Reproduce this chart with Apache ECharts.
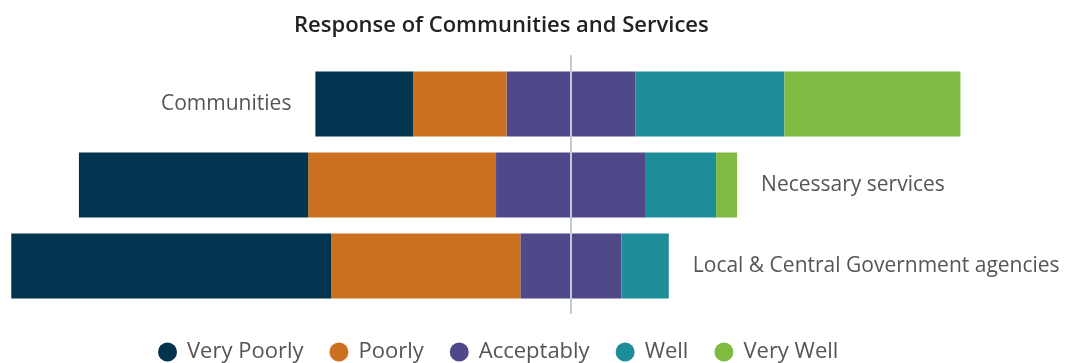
<!DOCTYPE html>
<html>
<head>
<meta charset="utf-8">
<script src="https://cdn.jsdelivr.net/npm/echarts@6/dist/echarts.min.js"></script>
<style>
  html, body { margin: 0; padding: 0; background: #fff; }
  #chart { width: 1066px; height: 363px; }
</style>
</head>
<body>
<div id="chart"></div>
<script>
// share of answers (%) per group
let categories = ['Communities', 'Necessary services', 'Local & Central Government agencies'];
let very_poorly = [14.9, 34.9, 48.7];
let poorly = [14.2, 28.6, 28.8];
let acceptably = [19.6, 22.8, 15.4];
let well = [22.7, 10.7, 7.2];
let very_well = [26.8, 3.2, 0];

let legend_names = ['Very Poorly', 'Poorly', 'Acceptably', 'Well', 'Very Well'];
let color_list = ['#02344f', '#cb7120', '#4f4889', '#1e8d9a', '#7fbb42'];

let font = 'Open Sans';
let x_min = -86, x_max = 74;

// left/right totals decide on which side the category name goes
let left_total = categories.map((c, i) => very_poorly[i] + poorly[i] + acceptably[i] / 2);
let right_total = categories.map((c, i) => acceptably[i] / 2 + well[i] + very_well[i]);

let name_label = {
    show: true,
    formatter: (p) => p.name,
    color: '#555',
    fontFamily: font,
    fontSize: 21,
    distance: 24
};

function gen_side_data(values, sign, side) {
    return values.map((v, i) => {
        let item = {value: sign * v};
        let outer_right = very_well[i] > 0 ? values === very_well : values === well;
        if (side === 'left' && left_total[i] <= right_total[i] && values === very_poorly) {
            item.label = Object.assign({}, name_label, {position: 'left'});
        }
        if (side === 'right' && left_total[i] > right_total[i] && outer_right) {
            item.label = Object.assign({}, name_label, {position: 'right'});
        }
        return item;
    });
}

function gen_bar_series(name, data, color) {
    return {
        name: name,
        type: 'bar',
        stack: 'total',
        barWidth: 65,
        data: data,
        itemStyle: {color: color},
        label: {show: false},
        xAxisIndex: 0,
        yAxisIndex: 0
    };
}

let series = [
    gen_bar_series('Acceptably', acceptably.map(v => -v / 2), color_list[2]),
    gen_bar_series('Poorly', gen_side_data(poorly, -1, 'left'), color_list[1]),
    gen_bar_series('Very Poorly', gen_side_data(very_poorly, -1, 'left'), color_list[0]),
    gen_bar_series('Acceptably', acceptably.map(v => v / 2), color_list[2]),
    gen_bar_series('Well', gen_side_data(well, 1, 'right'), color_list[3]),
    gen_bar_series('Very Well', gen_side_data(very_well, 1, 'right'), color_list[4])
];

let chart = echarts.init(document.getElementById('chart'));

let option = {
    animation: false,
    color: color_list,
    title: {
        text: 'Response of Communities and Services',
        left: 289,
        top: 10,
        textStyle: {
            color: '#222',
            fontFamily: font,
            fontWeight: 600,
            fontSize: 22
        }
    },
    legend: {
        data: legend_names,
        left: 153,
        top: 336,
        icon: 'circle',
        itemWidth: 19,
        itemHeight: 19,
        itemGap: 26,
        textStyle: {
            color: '#555',
            fontFamily: font,
            fontSize: 22,
            padding: [0, 0, 0, 5]
        }
    },
    grid: [
        {left: 6, right: 9, top: 63.5, bottom: 56.5},
        // second grid only carries the zero line, a bit taller than the bars
        {left: 6, right: 9, top: 56, bottom: 50}
    ],
    xAxis: [
        {type: 'value', gridIndex: 0, min: x_min, max: x_max, show: false},
        {
            type: 'value', gridIndex: 1, min: x_min, max: x_max,
            axisLine: {show: false}, axisTick: {show: false},
            axisLabel: {show: false}, splitLine: {show: false}
        }
    ],
    yAxis: [
        {
            type: 'category', gridIndex: 0, data: categories, inverse: true,
            axisLine: {show: false}, axisTick: {show: false}, axisLabel: {show: false}
        },
        {
            type: 'value', gridIndex: 1, min: 0, max: 1, z: 10,
            axisLine: {show: true, onZero: true, lineStyle: {color: '#bfccd7', width: 2}},
            axisTick: {show: false}, axisLabel: {show: false}, splitLine: {show: false}
        }
    ],
    series: series
};

chart.setOption(option);
</script>
</body>
</html>
